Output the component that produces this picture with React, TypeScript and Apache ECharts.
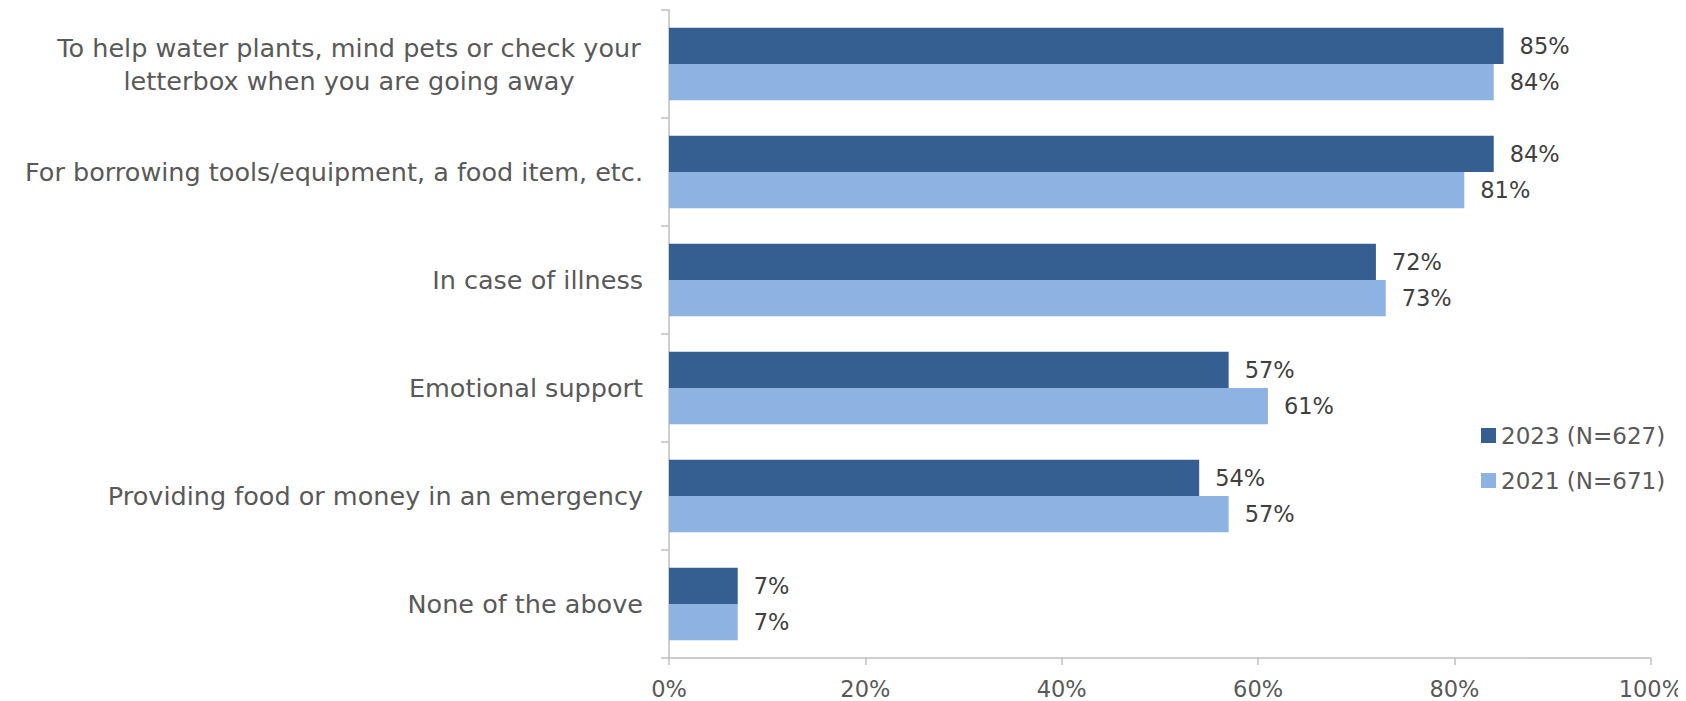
import React, { useEffect, useRef } from "react";
import * as echarts from "echarts";

const categories = [
  "To help water plants, mind pets or check your\nletterbox when you are going away",
  "For borrowing tools/equipment, a food item, etc.",
  "In case of illness",
  "Emotional support",
  "Providing food or money in an emergency",
  "None of the above",
];
const values2023 = [85, 84, 72, 57, 54, 7];
const values2021 = [84, 81, 73, 61, 57, 7];
const seriesNames = ["2023 (N=627)", "2021 (N=671)"];
const xTicks = [0, 20, 40, 60, 80, 100];

const FONT = "DejaVu Sans";
const TEXT = "#595959";
const AXIS = "#bfbfbf";

export default function App() {
  const ref = useRef<HTMLDivElement>(null);

  useEffect(() => {
    if (!ref.current) return;
    const chart = echarts.init(ref.current, undefined, { renderer: "svg" });
    const labelStyle = {
      show: true,
      position: "right" as const,
      distance: 16,
      formatter: (p: any) => `${p.value}%`,
      fontFamily: FONT,
      fontSize: 22.5,
      color: "#404040",
    };
    chart.setOption({
      animation: false,
      textStyle: { fontFamily: FONT },
      grid: { left: 669, right: 33, top: 10, bottom: 43, containLabel: false },
      legend: {
        orient: "vertical",
        left: 1476,
        top: 419,
        itemWidth: 15,
        itemHeight: 15,
        itemGap: 22,
        icon: "rect",
        textStyle: { fontFamily: FONT, fontSize: 23, color: TEXT },
        data: seriesNames,
      },
      xAxis: {
        type: "value",
        min: xTicks[0],
        max: xTicks[xTicks.length - 1],
        interval: 20,
        splitLine: { show: false },
        axisLine: { show: true, lineStyle: { color: AXIS, width: 1.5 } },
        axisTick: { show: true, length: 7, lineStyle: { color: AXIS, width: 1.5 } },
        axisLabel: {
          formatter: (v: number) => `${v}%`,
          fontFamily: FONT,
          fontSize: 22.5,
          color: TEXT,
          margin: 19,
        },
      },
      yAxis: {
        type: "category",
        inverse: true,
        data: categories,
        axisLine: { show: true, lineStyle: { color: AXIS, width: 1.5 } },
        axisTick: { show: true, length: 8, lineStyle: { color: AXIS, width: 1.5 } },
        axisLabel: {
          margin: 26,
          fontFamily: FONT,
          fontSize: 25.5,
          color: TEXT,
          lineHeight: 33,
          formatter: (v: string) =>
            v.includes("\n")
              ? v
                  .split("\n")
                  .map((l) => `{c|${l}}`)
                  .join("\n")
              : v,
          rich: {
            c: {
              width: 588,
              align: "center",
              fontFamily: FONT,
              fontSize: 25.5,
              color: TEXT,
              lineHeight: 33,
            },
          },
        },
      },
      series: [
        {
          name: seriesNames[0],
          type: "bar",
          data: values2023,
          barGap: "0%",
          barCategoryGap: "33%",
          itemStyle: { color: "#365f91" },
          label: labelStyle,
        },
        {
          name: seriesNames[1],
          type: "bar",
          data: values2021,
          barGap: "0%",
          barCategoryGap: "33%",
          itemStyle: { color: "#8db3e2" },
          label: labelStyle,
        },
      ],
    });
    return () => chart.dispose();
  }, []);

  return <div ref={ref} style={{ width: 1686, height: 701, marginLeft: -8, marginTop: -8 }} />;
}
